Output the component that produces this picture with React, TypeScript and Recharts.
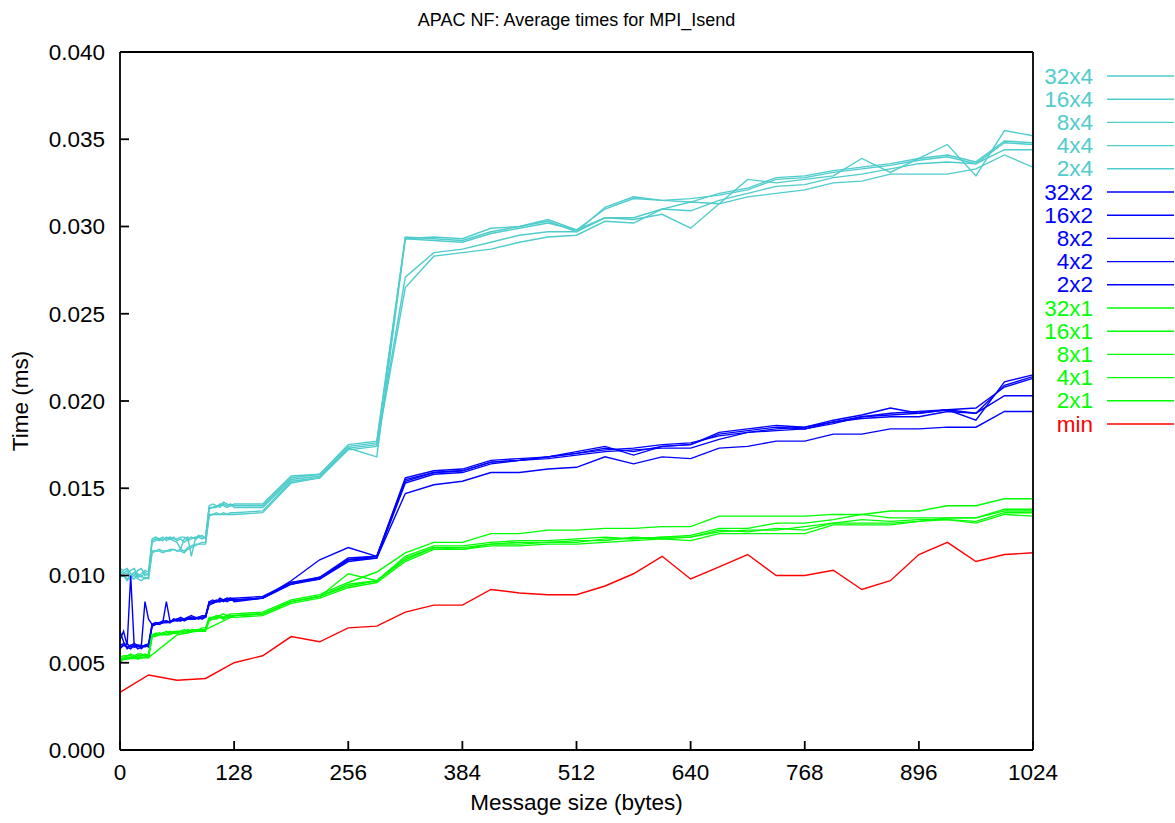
import { LineChart, Line, XAxis, YAxis, Label } from "recharts";

// message sizes (bytes): fine steps up to 124, then every 32 bytes
const sizes = [
  0, 4, 8, 12, 16, 20, 24, 28, 32, 36, 40, 44, 48, 52, 56, 60,
  64, 68, 72, 76, 80, 84, 88, 92, 96, 100, 104, 108, 112, 116, 120, 124,
  128, 160, 192, 224, 256, 288, 320, 352, 384, 416, 448, 480, 512, 544, 576, 608,
  640, 672, 704, 736, 768, 800, 832, 864, 896, 928, 960, 992, 1024,
];
const stepSizes = [
  0, 32, 64, 96, 128, 160, 192, 224, 256, 288, 320, 352, 384, 416, 448, 480,
  512, 544, 576, 608, 640, 672, 704, 736, 768, 800, 832, 864, 896, 928, 960, 992, 1024,
];

const xTicks = [0, 128, 256, 384, 512, 640, 768, 896, 1024];
const yTicks = [0, 0.005, 0.01, 0.015, 0.02, 0.025, 0.03, 0.035, 0.04];

// times in ms
const c32x4 = [
  0.0104, 0.0103, 0.0104, 0.0101, 0.0100, 0.0103, 0.0104, 0.0100, 0.0101, 0.0120, 0.0121, 0.0120, 0.0121, 0.0121, 0.0122, 0.0121,
  0.0121, 0.0122, 0.0122, 0.0120, 0.0121, 0.0122, 0.0122, 0.0123, 0.0121, 0.0139, 0.0139, 0.0140, 0.0140, 0.0142, 0.0141, 0.0140,
  0.0141, 0.0141, 0.0157, 0.0158, 0.0175, 0.0177, 0.0294, 0.0293, 0.0292, 0.0297, 0.0300, 0.0304, 0.0298, 0.0305, 0.0304, 0.0307,
  0.0299, 0.0313, 0.0327, 0.0325, 0.0327, 0.0329, 0.0339, 0.0331, 0.0339, 0.0347, 0.0329, 0.0355, 0.0352,
];
const c16x4 = [
  0.0102, 0.0101, 0.0103, 0.0099, 0.0098, 0.0101, 0.0099, 0.0102, 0.0100, 0.0119, 0.0120, 0.0121, 0.0120, 0.0122, 0.0121, 0.0120,
  0.0119, 0.0115, 0.0121, 0.0122, 0.0111, 0.0120, 0.0122, 0.0121, 0.0122, 0.0138, 0.0139, 0.0139, 0.0141, 0.0140, 0.0139, 0.0140,
  0.0140, 0.0140, 0.0156, 0.0158, 0.0174, 0.0176, 0.0293, 0.0294, 0.0293, 0.0299, 0.0300, 0.0303, 0.0297, 0.0311, 0.0317, 0.0315,
  0.0314, 0.0319, 0.0322, 0.0328, 0.0329, 0.0332, 0.0334, 0.0336, 0.0339, 0.0341, 0.0337, 0.0349, 0.0348,
];
const c8x4 = [
  0.0101, 0.0100, 0.0098, 0.0100, 0.0102, 0.0099, 0.0100, 0.0098, 0.0099, 0.0114, 0.0114, 0.0115, 0.0114, 0.0114, 0.0115, 0.0115,
  0.0114, 0.0115, 0.0114, 0.0116, 0.0117, 0.0118, 0.0118, 0.0119, 0.0119, 0.0135, 0.0135, 0.0136, 0.0135, 0.0136, 0.0135, 0.0136,
  0.0136, 0.0137, 0.0154, 0.0156, 0.0173, 0.0175, 0.0271, 0.0285, 0.0287, 0.0291, 0.0295, 0.0297, 0.0297, 0.0305, 0.0305, 0.0310,
  0.0309, 0.0315, 0.0319, 0.0323, 0.0324, 0.0328, 0.0330, 0.0333, 0.0336, 0.0337, 0.0336, 0.0344, 0.0344,
];
const c4x4 = [
  0.0099, 0.0100, 0.0097, 0.0099, 0.0100, 0.0098, 0.0097, 0.0099, 0.0098, 0.0113, 0.0114, 0.0114, 0.0113, 0.0114, 0.0114, 0.0115,
  0.0114, 0.0114, 0.0113, 0.0115, 0.0116, 0.0117, 0.0118, 0.0118, 0.0118, 0.0134, 0.0135, 0.0135, 0.0135, 0.0135, 0.0135, 0.0135,
  0.0135, 0.0136, 0.0153, 0.0156, 0.0172, 0.0174, 0.0265, 0.0283, 0.0285, 0.0287, 0.0291, 0.0294, 0.0295, 0.0303, 0.0302, 0.0310,
  0.0314, 0.0313, 0.0317, 0.0319, 0.0321, 0.0325, 0.0326, 0.0330, 0.0330, 0.0330, 0.0333, 0.0341, 0.0334,
];
const c2x4 = [
  0.0103, 0.0102, 0.0101, 0.0103, 0.0104, 0.0100, 0.0101, 0.0103, 0.0102, 0.0121, 0.0122, 0.0121, 0.0122, 0.0120, 0.0121, 0.0122,
  0.0120, 0.0121, 0.0119, 0.0121, 0.0122, 0.0121, 0.0123, 0.0122, 0.0122, 0.0140, 0.0141, 0.0140, 0.0139, 0.0141, 0.0140, 0.0141,
  0.0139, 0.0139, 0.0155, 0.0157, 0.0173, 0.0168, 0.0293, 0.0292, 0.0291, 0.0296, 0.0299, 0.0302, 0.0298, 0.0310, 0.0316, 0.0315,
  0.0316, 0.0318, 0.0321, 0.0327, 0.0328, 0.0331, 0.0333, 0.0335, 0.0338, 0.0340, 0.0336, 0.0348, 0.0347,
];

const b32x2 = [
  0.0068, 0.0062, 0.0058, 0.0060, 0.0059, 0.0060, 0.0059, 0.0060, 0.0060, 0.0072, 0.0073, 0.0073, 0.0073, 0.0085, 0.0074, 0.0074,
  0.0075, 0.0075, 0.0074, 0.0075, 0.0075, 0.0076, 0.0075, 0.0076, 0.0076, 0.0084, 0.0085, 0.0085, 0.0086, 0.0086, 0.0086, 0.0086,
  0.0086, 0.0087, 0.0097, 0.0109, 0.0116, 0.0111, 0.0156, 0.0160, 0.0161, 0.0166, 0.0167, 0.0168, 0.0171, 0.0174, 0.0169, 0.0174,
  0.0175, 0.0182, 0.0184, 0.0186, 0.0185, 0.0189, 0.0192, 0.0196, 0.0193, 0.0195, 0.0189, 0.0211, 0.0215,
];
const b16x2 = [
  0.0063, 0.0068, 0.0060, 0.0100, 0.0059, 0.0060, 0.0060, 0.0059, 0.0060, 0.0071, 0.0072, 0.0073, 0.0073, 0.0074, 0.0073, 0.0075,
  0.0074, 0.0075, 0.0075, 0.0076, 0.0075, 0.0075, 0.0076, 0.0076, 0.0077, 0.0084, 0.0085, 0.0086, 0.0085, 0.0086, 0.0087, 0.0086,
  0.0086, 0.0087, 0.0095, 0.0098, 0.0109, 0.0111, 0.0155, 0.0159, 0.0160, 0.0165, 0.0166, 0.0168, 0.0170, 0.0172, 0.0173, 0.0175,
  0.0176, 0.0180, 0.0182, 0.0183, 0.0184, 0.0187, 0.0191, 0.0193, 0.0194, 0.0195, 0.0196, 0.0208, 0.0213,
];
const b8x2 = [
  0.0058, 0.0060, 0.0059, 0.0058, 0.0060, 0.0059, 0.0060, 0.0085, 0.0075, 0.0072, 0.0073, 0.0072, 0.0073, 0.0073, 0.0074, 0.0074,
  0.0075, 0.0074, 0.0075, 0.0075, 0.0076, 0.0075, 0.0076, 0.0076, 0.0076, 0.0085, 0.0084, 0.0085, 0.0086, 0.0085, 0.0086, 0.0087,
  0.0085, 0.0087, 0.0095, 0.0099, 0.0109, 0.0110, 0.0153, 0.0158, 0.0159, 0.0164, 0.0166, 0.0167, 0.0169, 0.0171, 0.0172, 0.0173,
  0.0173, 0.0178, 0.0182, 0.0184, 0.0185, 0.0188, 0.0190, 0.0191, 0.0191, 0.0194, 0.0193, 0.0203, 0.0203,
];
const b4x2 = [
  0.0059, 0.0060, 0.0061, 0.0059, 0.0060, 0.0058, 0.0059, 0.0060, 0.0059, 0.0071, 0.0072, 0.0072, 0.0073, 0.0073, 0.0073, 0.0074,
  0.0074, 0.0074, 0.0075, 0.0075, 0.0075, 0.0075, 0.0076, 0.0075, 0.0076, 0.0083, 0.0084, 0.0085, 0.0085, 0.0086, 0.0085, 0.0086,
  0.0086, 0.0087, 0.0096, 0.0098, 0.0108, 0.0110, 0.0147, 0.0152, 0.0154, 0.0159, 0.0159, 0.0161, 0.0162, 0.0168, 0.0164, 0.0168,
  0.0167, 0.0173, 0.0174, 0.0177, 0.0177, 0.0181, 0.0181, 0.0184, 0.0184, 0.0185, 0.0185, 0.0194, 0.0194,
];
const b2x2 = [
  0.0060, 0.0061, 0.0059, 0.0060, 0.0061, 0.0060, 0.0058, 0.0060, 0.0061, 0.0072, 0.0072, 0.0073, 0.0074, 0.0074, 0.0073, 0.0075,
  0.0075, 0.0076, 0.0075, 0.0076, 0.0077, 0.0076, 0.0076, 0.0077, 0.0077, 0.0085, 0.0086, 0.0085, 0.0087, 0.0086, 0.0087, 0.0087,
  0.0087, 0.0088, 0.0096, 0.0099, 0.0110, 0.0111, 0.0154, 0.0159, 0.0160, 0.0165, 0.0166, 0.0168, 0.0170, 0.0173, 0.0171, 0.0174,
  0.0175, 0.0181, 0.0183, 0.0185, 0.0184, 0.0188, 0.0191, 0.0192, 0.0193, 0.0195, 0.0193, 0.0209, 0.0214,
];

const g32x1 = [
  0.0053, 0.0054, 0.0054, 0.0055, 0.0054, 0.0055, 0.0055, 0.0054, 0.0055, 0.0066, 0.0067, 0.0067, 0.0067, 0.0068, 0.0067, 0.0068,
  0.0068, 0.0068, 0.0069, 0.0068, 0.0069, 0.0069, 0.0069, 0.0070, 0.0070, 0.0076, 0.0076, 0.0077, 0.0077, 0.0078, 0.0077, 0.0078,
  0.0078, 0.0079, 0.0086, 0.0089, 0.0096, 0.0102, 0.0113, 0.0119, 0.0119, 0.0124, 0.0124, 0.0126, 0.0126, 0.0127, 0.0127, 0.0128,
  0.0128, 0.0134, 0.0134, 0.0134, 0.0134, 0.0135, 0.0135, 0.0137, 0.0137, 0.0140, 0.0140, 0.0144, 0.0144,
];
const g16x1 = [
  0.0052, 0.0053, 0.0054, 0.0054, 0.0053, 0.0054, 0.0054, 0.0055, 0.0054, 0.0066, 0.0066, 0.0067, 0.0066, 0.0067, 0.0068, 0.0067,
  0.0068, 0.0068, 0.0068, 0.0069, 0.0068, 0.0069, 0.0069, 0.0069, 0.0069, 0.0075, 0.0076, 0.0076, 0.0077, 0.0076, 0.0077, 0.0077,
  0.0077, 0.0078, 0.0085, 0.0088, 0.0101, 0.0097, 0.0111, 0.0117, 0.0117, 0.0119, 0.0120, 0.0120, 0.0121, 0.0122, 0.0121, 0.0122,
  0.0123, 0.0127, 0.0127, 0.0130, 0.0130, 0.0132, 0.0135, 0.0133, 0.0133, 0.0133, 0.0133, 0.0138, 0.0138,
];
const g8x1 = [
  0.0051, 0.0052, 0.0053, 0.0053, 0.0054, 0.0053, 0.0054, 0.0054, 0.0053, 0.0065, 0.0066, 0.0066, 0.0067, 0.0066, 0.0067, 0.0067,
  0.0067, 0.0068, 0.0067, 0.0068, 0.0068, 0.0068, 0.0069, 0.0068, 0.0069, 0.0075, 0.0075, 0.0076, 0.0076, 0.0076, 0.0077, 0.0076,
  0.0077, 0.0078, 0.0085, 0.0088, 0.0095, 0.0097, 0.0109, 0.0116, 0.0115, 0.0118, 0.0119, 0.0119, 0.0119, 0.0121, 0.0121, 0.0122,
  0.0122, 0.0125, 0.0126, 0.0126, 0.0128, 0.0130, 0.0132, 0.0131, 0.0132, 0.0132, 0.0131, 0.0136, 0.0136,
];
const g4x1 = [
  0.0050, 0.0052, 0.0052, 0.0053, 0.0053, 0.0052, 0.0053, 0.0053, 0.0053, 0.0065, 0.0065, 0.0066, 0.0066, 0.0066, 0.0066, 0.0067,
  0.0067, 0.0067, 0.0067, 0.0067, 0.0068, 0.0068, 0.0068, 0.0068, 0.0068, 0.0074, 0.0075, 0.0075, 0.0076, 0.0075, 0.0076, 0.0076,
  0.0076, 0.0077, 0.0084, 0.0087, 0.0093, 0.0096, 0.0108, 0.0115, 0.0115, 0.0117, 0.0117, 0.0118, 0.0118, 0.0119, 0.0120, 0.0121,
  0.0120, 0.0124, 0.0124, 0.0124, 0.0124, 0.0129, 0.0129, 0.0129, 0.0131, 0.0132, 0.0130, 0.0135, 0.0134,
];
// measured only every 32 bytes
const g2x1 = [
  0.0052, 0.0053, 0.0066, 0.0069, 0.0077, 0.0078, 0.0085, 0.0088, 0.0094, 0.0097, 0.0110, 0.0116, 0.0116, 0.0118, 0.0118, 0.0119,
  0.0120, 0.0120, 0.0122, 0.0121, 0.0122, 0.0126, 0.0125, 0.0127, 0.0126, 0.0130, 0.0130, 0.0130, 0.0131, 0.0133, 0.0133, 0.0137,
  0.0137,
];
const minTimes = [
  0.0033, 0.0043, 0.0040, 0.0041, 0.0050, 0.0054, 0.0065, 0.0062, 0.0070, 0.0071, 0.0079, 0.0083, 0.0083, 0.0092, 0.0090, 0.0089,
  0.0089, 0.0094, 0.0101, 0.0111, 0.0098, 0.0105, 0.0112, 0.0100, 0.0100, 0.0103, 0.0092, 0.0097, 0.0112, 0.0119, 0.0108, 0.0112,
  0.0113,
];

const CYAN = "#4fcccc";
const BLUE = "#0000ff";
const GREEN = "#00ff00";
const RED = "#ff0000";

const series = [
  { name: "32x4", color: CYAN, xs: sizes, ys: c32x4 },
  { name: "16x4", color: CYAN, xs: sizes, ys: c16x4 },
  { name: "8x4", color: CYAN, xs: sizes, ys: c8x4 },
  { name: "4x4", color: CYAN, xs: sizes, ys: c4x4 },
  { name: "2x4", color: CYAN, xs: sizes, ys: c2x4 },
  { name: "32x2", color: BLUE, xs: sizes, ys: b32x2 },
  { name: "16x2", color: BLUE, xs: sizes, ys: b16x2 },
  { name: "8x2", color: BLUE, xs: sizes, ys: b8x2 },
  { name: "4x2", color: BLUE, xs: sizes, ys: b4x2 },
  { name: "2x2", color: BLUE, xs: sizes, ys: b2x2 },
  { name: "32x1", color: GREEN, xs: sizes, ys: g32x1 },
  { name: "16x1", color: GREEN, xs: sizes, ys: g16x1 },
  { name: "8x1", color: GREEN, xs: sizes, ys: g8x1 },
  { name: "4x1", color: GREEN, xs: sizes, ys: g4x1 },
  { name: "2x1", color: GREEN, xs: stepSizes, ys: g2x1 },
  { name: "min", color: RED, xs: stepSizes, ys: minTimes },
];

const FONT = "'Liberation Sans', Arial, Helvetica, sans-serif";
const axisStroke = { stroke: "#000", strokeWidth: 1.8 };
const tickStyle = { fill: "#000", fontSize: 22.5, fontFamily: FONT };
const labelStyle = { fill: "#000", fontSize: 22.5, fontFamily: FONT };

export default function App() {
  return (
    <div style={{ position: "absolute", left: 0, top: 0, width: 1175, height: 823, background: "#fff", fontFamily: FONT }}>
      <LineChart width={1175} height={823} margin={{ top: 51, right: 141, bottom: 0, left: 0 }}>
        <XAxis
          xAxisId="b"
          type="number"
          dataKey="x"
          domain={[0, 1024]}
          ticks={xTicks}
          allowDataOverflow
          height={73}
          tickSize={-9}
          tickMargin={23}
          axisLine={axisStroke}
          tickLine={axisStroke}
          tick={tickStyle}
        >
          <Label value="Message size (bytes)" position="insideBottom" offset={13} style={labelStyle} />
        </XAxis>
        <XAxis
          xAxisId="t"
          orientation="top"
          type="number"
          dataKey="x"
          domain={[0, 1024]}
          ticks={xTicks}
          allowDataOverflow
          height={1}
          tickSize={-9}
          axisLine={axisStroke}
          tickLine={axisStroke}
          tick={false}
        >
          <Label value="APAC NF: Average times for MPI_Isend" position="top" offset={25} style={{ fill: "#000", fontSize: 18, fontFamily: FONT }} />
        </XAxis>
        <YAxis
          yAxisId="l"
          type="number"
          domain={[0, 0.04]}
          ticks={yTicks}
          allowDataOverflow
          width={120}
          tickSize={-9}
          tickMargin={24}
          axisLine={axisStroke}
          tickLine={axisStroke}
          tick={tickStyle}
          tickFormatter={(v: number) => v.toFixed(3)}
        >
          <Label value="Time (ms)" angle={-90} position="insideLeft" offset={20} style={{ ...labelStyle, textAnchor: "middle" }} />
        </YAxis>
        <YAxis
          yAxisId="r"
          orientation="right"
          type="number"
          domain={[0, 0.04]}
          ticks={yTicks}
          allowDataOverflow
          width={1}
          tickSize={-9}
          axisLine={axisStroke}
          tickLine={axisStroke}
          tick={false}
        />
        {series.map((s) => (
          <Line
            key={s.name}
            xAxisId="b"
            yAxisId="l"
            data={s.xs.map((x, i) => ({ x, y: s.ys[i] }))}
            dataKey="y"
            name={s.name}
            type="linear"
            stroke={s.color}
            strokeWidth={1.4}
            dot={false}
            activeDot={false}
            isAnimationActive={false}
          />
        ))}
      </LineChart>
      <svg width={142} height={400} style={{ position: "absolute", left: 1033, top: 52 }}>
        {series.map((s, i) => (
          <g key={s.name}>
            <text x={60} y={24 + i * 23.2} textAnchor="end" dominantBaseline="central" fill={s.color} fontSize={22.5} fontFamily={FONT}>
              {s.name}
            </text>
            <line x1={74} x2={141} y1={24 + i * 23.2} y2={24 + i * 23.2} stroke={s.color} strokeWidth={1.4} />
          </g>
        ))}
      </svg>
    </div>
  );
}
